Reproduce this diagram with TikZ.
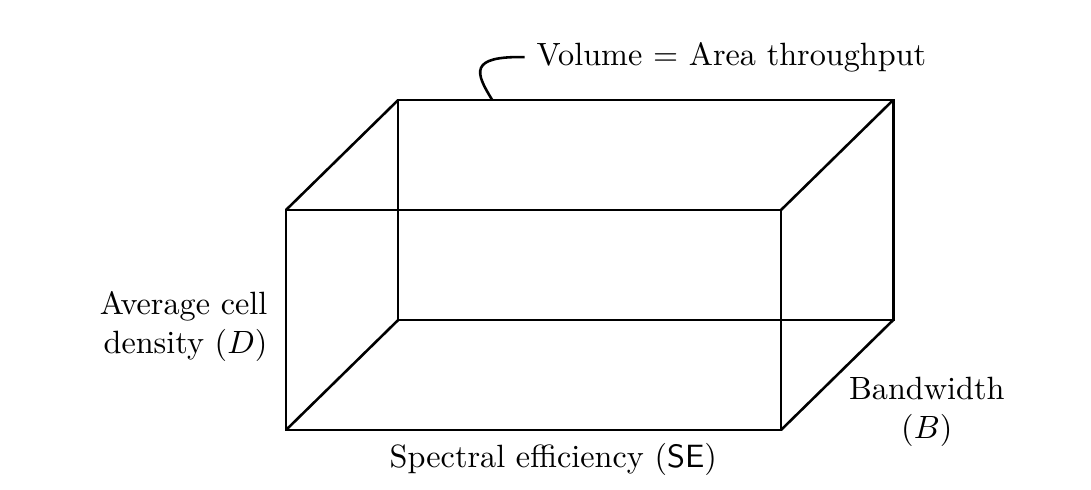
\documentclass[tikz,border=0pt]{standalone}
\usepackage{amsmath}
\usepackage{tikz}
\usetikzlibrary{calc}

\begin{document}
\begin{tikzpicture}[x=1.2cm,y=1.2cm,line width=0.8pt]
	\useasboundingbox (-2.6,-0.545) rectangle (7.318,3.909);
	% front face
	\coordinate (f1) at (0,0);
	\coordinate (f2) at (4.5,0);
	\coordinate (f3) at (4.5,2);
	\coordinate (f4) at (0,2);
	% back face
	\foreach \i in {1,...,4}
	\coordinate (b\i) at ($(f\i)+(1.02,1)$);
	\draw (f1) -- (f2) -- (f3) -- (f4) -- cycle;
	\draw (b1) -- (b2) -- (b3) -- (b4) -- cycle;
	\foreach \i in {1,...,4}
	\draw (f\i) -- (b\i);
	% labels
	\node[align=right,anchor=east] (dens) at (-0.06,0.94) {Average cell\\density $(D)$};
	\node[align=center,anchor=north west] (band) at (5.01,0.59) {Bandwidth\\$(B)$};
	\node[anchor=north] (se) at (2.43,-0.014) {Spectral efficiency (\textsf{SE})};
	\node[anchor=west] (vol) at (2.17,3.39) {Volume $=$ Area throughput};
	\coordinate (top) at ($(b4)!0.19!(b3)$);
	\draw (top) .. controls (1.72,3.25) and (1.66,3.40) .. (vol.west);
\end{tikzpicture}
\end{document}
